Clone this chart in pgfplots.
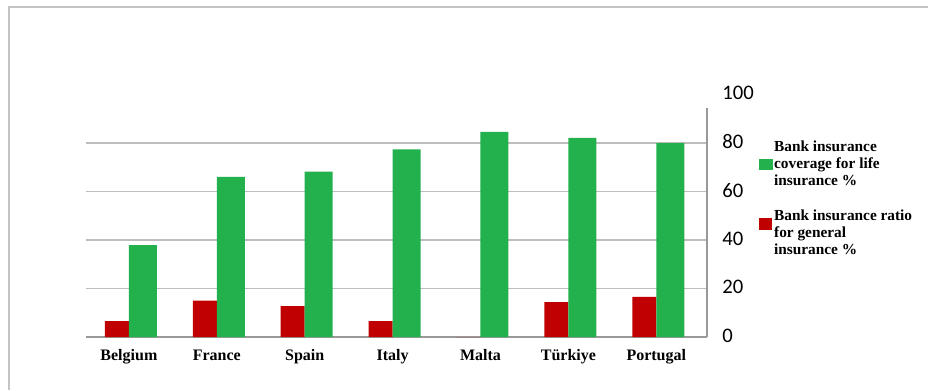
\documentclass[border=0pt]{standalone}
\usepackage{fontspec}
\setmainfont{Liberation Serif}
\newfontfamily\tickfont{Carlito}
\usepackage{pgfplots}
\pgfplotsset{compat=1.18}
\definecolor{lifegreen}{HTML}{22B14C}
\definecolor{genred}{HTML}{C00000}
\definecolor{framegray}{HTML}{C4C4C4}
\definecolor{gridgray}{HTML}{BDBDBD}

\begin{document}
\begin{tikzpicture}
% canvas: 1px = 0.75pt
\path[use as bounding box] (0,0) rectangle (696pt,292.5pt);
\draw[framegray, line width=1.5pt] (6.75pt,0) -- (6.75pt,287.25pt) -- (697pt,287.25pt);

\begin{axis}[
  at={(64.5pt,39.75pt)}, anchor=south west,
  scale only axis,
  width=465.75pt, height=181.875pt,
  xmin=-0.488, xmax=6.577,
  ymin=0, ymax=100,
  axis line style={draw=none},
  clip=false,
  xtick={0,1,2,3,4,5,6},
  xticklabels={Belgium,France,Spain,Italy,Malta,Türkiye,Portugal},
  xticklabel style={font=\fontsize{12}{14}\selectfont\bfseries, anchor=base, yshift=-17.5pt},
  ytick={0,20,40,60,80,100},
  yticklabel pos=right,
  yticklabel style={font=\tickfont\fontsize{15.5}{17}\selectfont, anchor=west, xshift=8pt, yshift=1pt},
  /pgf/number format/assume math mode=true,
  major tick length=0pt,
  extra y ticks={20,40,60,80},
  extra y tick labels={},
  extra y tick style={grid=major},
  major grid style={gridgray, line width=1pt},
  ybar=0pt,
  legend cell align=left,
  reverse legend,
  legend style={
    at={(1.083,0.815)}, anchor=north west,
    draw=none, fill=none, inner sep=0pt,
    row sep=14.5pt,
    font=\fontsize{11.5}{12.8}\selectfont\bfseries,
    nodes={align=left, inner sep=1pt},
  },
]
% axis lines
\draw[gray!80, line width=1pt] (rel axis cs:0,0) -- (rel axis cs:1,0);
\draw[gray!80, line width=1pt] (rel axis cs:1,0) -- (rel axis cs:1,0.944);

\addplot[fill=genred, draw=none, bar width=18pt, bar shift=-9pt,
  legend image code/.code={\fill[genred] (1pt,2pt) rectangle (10.5pt,11pt);}]
  coordinates {(0,6.5) (1,15) (2,12.7) (3,6.5) (4,0) (5,14.4) (6,16.5)};
\addplot[fill=lifegreen, draw=none, bar width=21pt, bar shift=10.5pt,
  legend image code/.code={\fill[lifegreen] (0.5pt,-4.2pt) rectangle (11pt,4.2pt);}]
  coordinates {(0,37.9) (1,66) (2,68.2) (3,77.4) (4,84.6) (5,82.1) (6,79.9)};
\legend{{Bank insurance ratio\\for general\\insurance \%},{Bank insurance\\coverage for life\\insurance \%}}
\end{axis}
\end{tikzpicture}
\end{document}
